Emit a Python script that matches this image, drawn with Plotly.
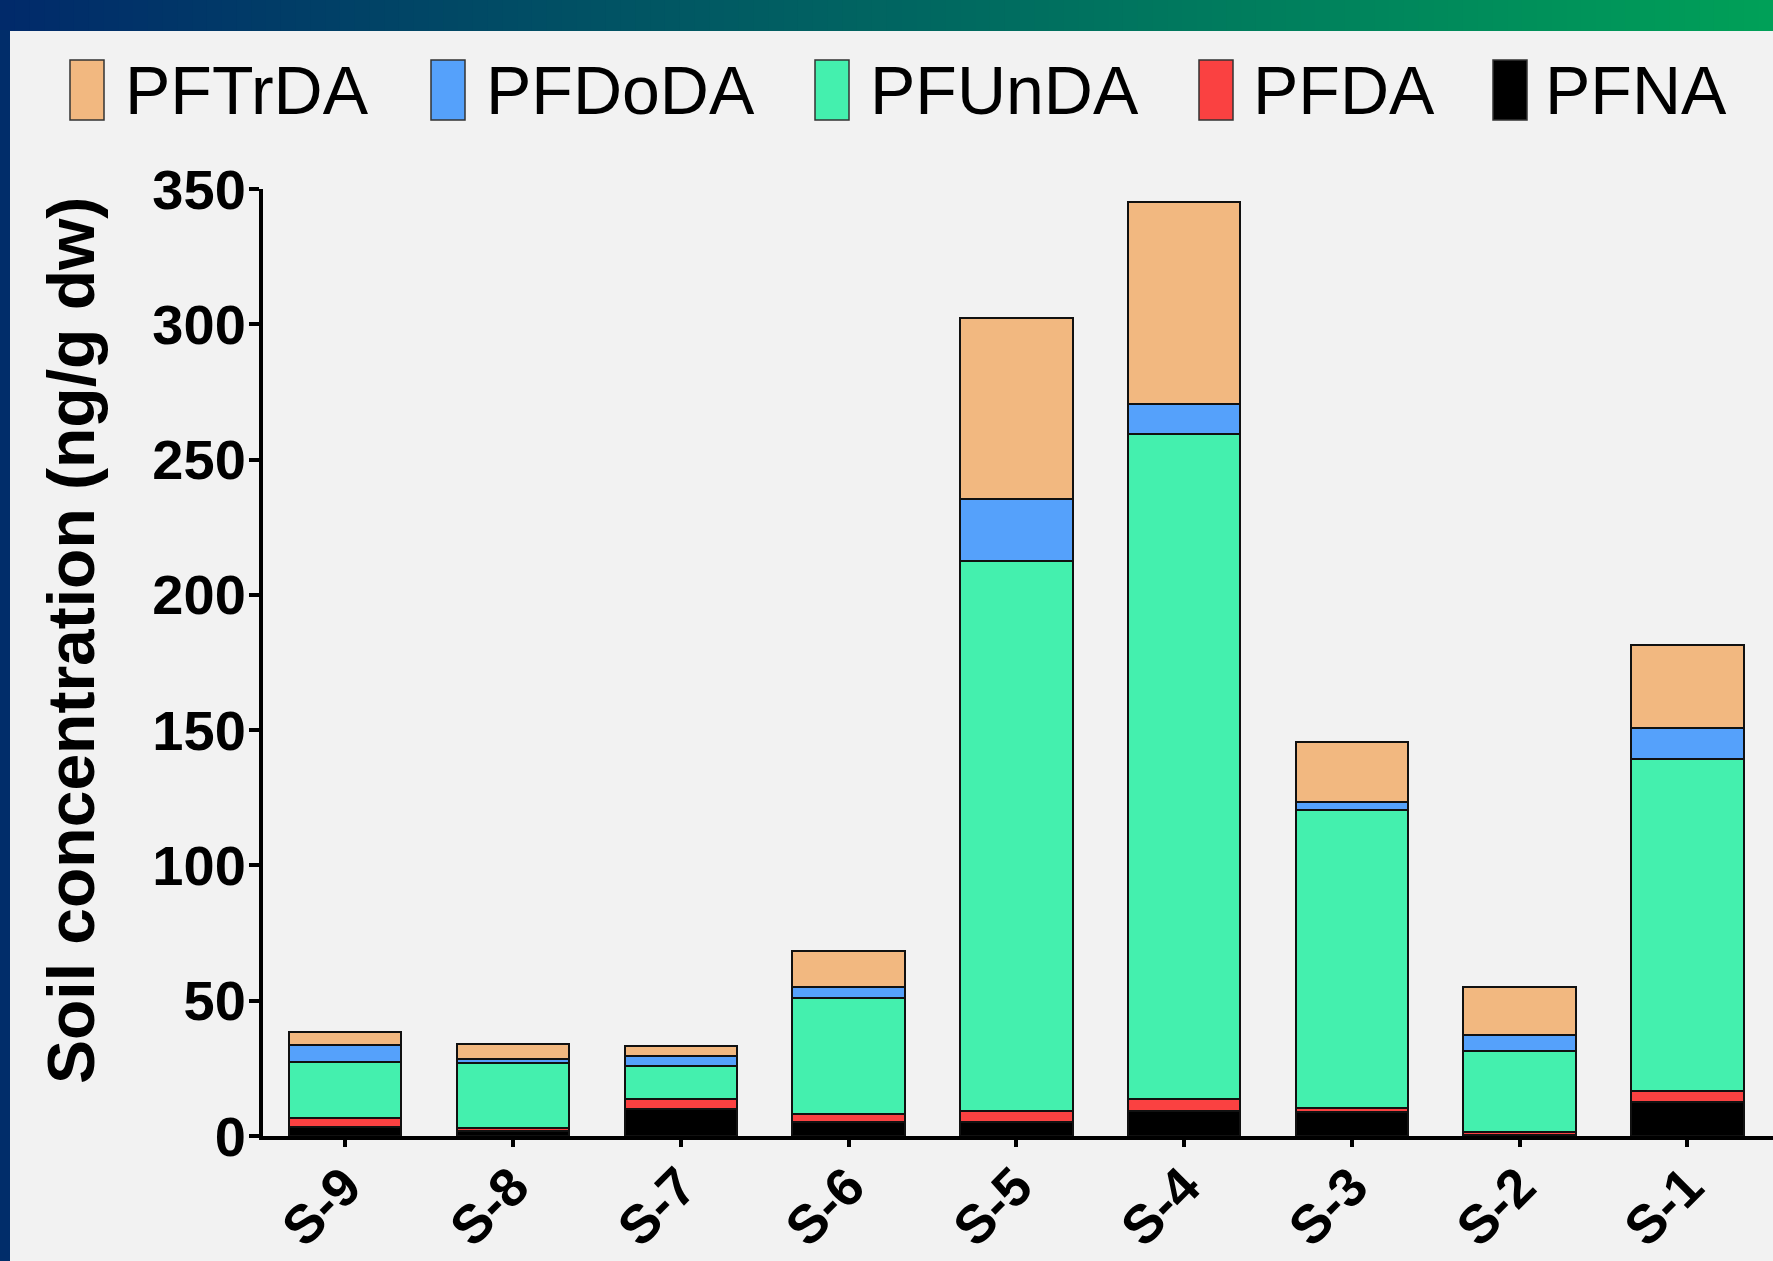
import plotly.graph_objects as go

# ---------------- data ----------------
sites = ["S-9", "S-8", "S-7", "S-6", "S-5", "S-4", "S-3", "S-2", "S-1"]
PFNA = [3.5, 1.8, 9.9, 5.0, 5.0, 9.2, 9.0, 0.5, 12.6]
PFDA = [3.2, 1.3, 3.7, 3.0, 4.3, 4.6, 1.5, 0.8, 3.9]
PFUnDA = [20.8, 23.9, 12.3, 43.0, 203.1, 245.8, 109.9, 30.2, 122.9]
PFDoDA = [6.1, 1.6, 3.7, 4.2, 23.0, 11.0, 2.9, 6.0, 11.4]
PFTrDA = [5.0, 5.3, 3.7, 13.0, 67.0, 74.5, 22.2, 17.7, 30.6]

series_names = ["PFNA", "PFDA", "PFUnDA", "PFDoDA", "PFTrDA"]
series_values = [PFNA, PFDA, PFUnDA, PFDoDA, PFTrDA]
series_colors = ["#000000", "#fa4141", "#44f0ae", "#55a1fb", "#f2b880"]

y_title = "Soil concentration (ng/g dw)"

# ---------------- geometry ----------------
W, H = 1773, 1261
L, R, T, B = 263, 0, 189, 1136
PW, PH = W - L - R, B - T


def X(px):
    return (px - L) / PW


def Y(py):
    return (B - py) / PH


fig = go.Figure()
for name, vals, col in zip(series_names, series_values, series_colors):
    fig.add_trace(go.Bar(
        x=sites, y=vals, name=name, width=0.67,
        marker=dict(color=col, line=dict(color="#111111", width=2)),
        showlegend=False,
    ))

shapes = []
annotations = []

# top gradient band
c0 = (1, 42, 106)
c1 = (0, 160, 88)
N = 120
for i in range(N):
    t = i / (N - 1)
    c = tuple(round(c0[k] + (c1[k] - c0[k]) * t) for k in range(3))
    x0 = W * i / N
    x1 = W * (i + 1) / N + 1
    shapes.append(dict(type="rect", xref="paper", yref="paper",
                       x0=X(x0), x1=X(x1), y0=Y(31), y1=Y(0),
                       fillcolor="rgb(%d,%d,%d)" % c, line=dict(width=0),
                       layer="above"))
# left strip
shapes.append(dict(type="rect", xref="paper", yref="paper",
                   x0=X(0), x1=X(10), y0=Y(H), y1=Y(30),
                   fillcolor="rgb(1,45,106)", line=dict(width=0), layer="above"))

# manual legend (reverse stacking order)
leg_swatch_x = [70, 431, 815, 1199, 1493]
leg_text_x = [123, 484, 868, 1251, 1543]
for i, idx in enumerate(range(len(series_names) - 1, -1, -1)):
    sx = leg_swatch_x[i]
    shapes.append(dict(type="rect", xref="paper", yref="paper",
                       x0=X(sx), x1=X(sx + 34), y0=Y(120), y1=Y(60),
                       fillcolor=series_colors[idx],
                       line=dict(color="#333333", width=1.5), layer="above"))
    annotations.append(dict(xref="paper", yref="paper", x=X(leg_text_x[i]), y=Y(90),
                            xanchor="left", yanchor="middle", showarrow=False,
                            text=series_names[idx],
                            font=dict(family="Liberation Sans, Arial", size=68, color="#000000")))

# y title
annotations.append(dict(xref="paper", yref="paper", x=X(71), y=Y(641),
                        xanchor="center", yanchor="middle", showarrow=False,
                        textangle=-90, text=y_title,
                        font=dict(family="Liberation Sans, Arial", size=66,
                                  color="#000000", weight="bold")))

fig.update_layout(
    width=W, height=H, autosize=False,
    margin=dict(l=L, r=R, t=T, b=H - B, pad=0, autoexpand=False),
    paper_bgcolor="#f2f2f2", plot_bgcolor="#f2f2f2",
    barmode="stack",
    shapes=shapes, annotations=annotations,
    showlegend=False,
    font=dict(family="Liberation Sans, Arial", color="#000000"),
)
fig.update_xaxes(
    type="category", range=[-0.49, 8.51], automargin=False,
    showline=True, linecolor="#000000", linewidth=4,
    ticks="outside", ticklen=7, tickwidth=4, tickcolor="#000000",
    tickangle=-45, ticklabelstandoff=-14,
    showgrid=False, zeroline=False,
    tickfont=dict(family="Liberation Sans, Arial", size=54, color="#000000", weight="bold"),
)
fig.update_yaxes(
    range=[0, 350], dtick=50, tick0=0, automargin=False,
    showline=True, linecolor="#000000", linewidth=4,
    ticks="outside", ticklen=10, tickwidth=4, tickcolor="#000000",
    ticklabelstandoff=-8,
    showgrid=False, zeroline=False,
    tickfont=dict(family="Liberation Sans, Arial", size=56, color="#000000", weight="bold"),
)

fig.write_html("out.html", config={"displayModeBar": False},
               post_script="document.body.style.margin='0';document.body.style.overflow='hidden';")
